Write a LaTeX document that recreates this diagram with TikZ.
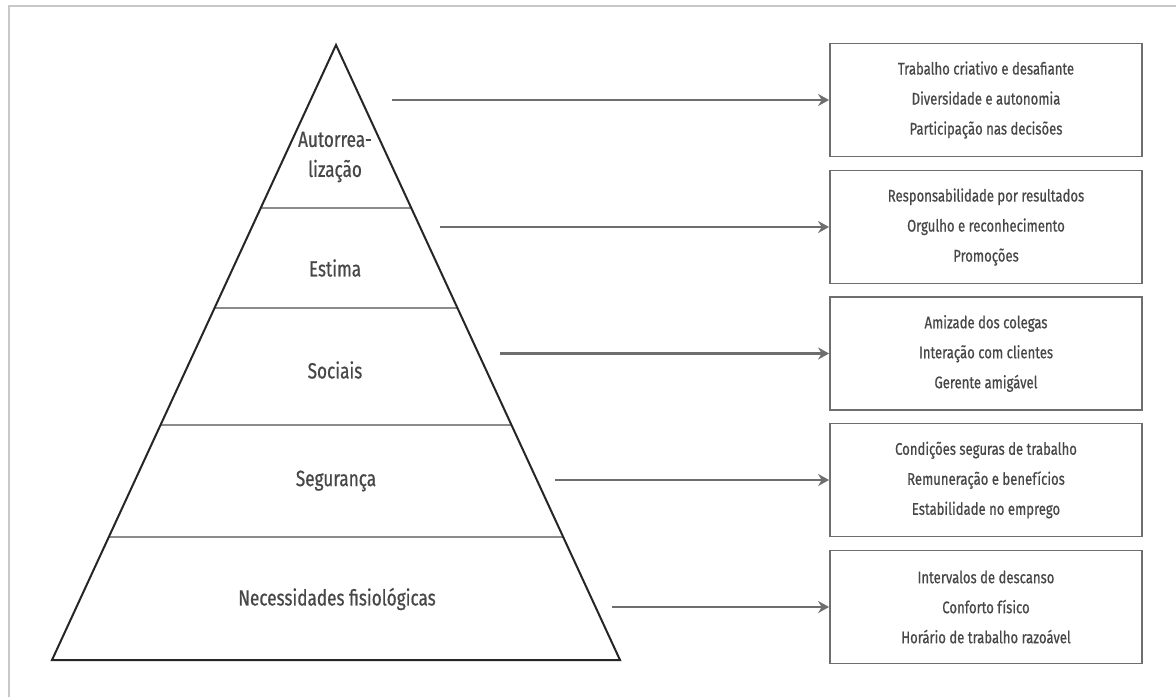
\documentclass[tikz,border=0pt]{standalone}
\usepackage{fontspec}
\setmainfont{Fira Sans}[FakeStretch=0.78,FakeBold=0.6]
\usetikzlibrary{arrows.meta}
\definecolor{txt}{HTML}{474747}
\definecolor{ln}{HTML}{6E6E6E}
\definecolor{frm}{HTML}{C8C8C8}
\begin{document}
\begin{tikzpicture}[x=1pt,y=-1pt,
  lbl/.style={text=txt,font=\fontsize{22}{30}\selectfont,align=center,inner sep=0pt},
  infobox/.style={draw=ln,line width=1.8pt,minimum width=312pt,minimum height=113pt,
     text=txt,font=\fontsize{16.8}{30}\selectfont,align=center,inner sep=0pt},
  conn/.style={draw=ln,line width=2.2pt,-{Stealth[length=11pt,width=12pt]}},
  divider/.style={draw=ln!80,line width=1.8pt}]
\useasboundingbox (0,0) rectangle (1176,697);
\fill[white] (0,0) rectangle (1176,697);
% frame
\draw[frm,line width=1.5pt] (9,697) -- (9,6) -- (1176,6);
% pyramid
\coordinate (apex) at (336,45);
\coordinate (bl) at (52,660);
\coordinate (br) at (620,660);
\draw[divider] (261,208) -- (411,208);
\draw[divider] (214.5,308) -- (457.5,308);
\draw[divider] (160.5,425) -- (511.5,425);
\draw[divider] (109,537) -- (563,537);
\draw[black!85,line width=2pt,line join=miter] (apex) -- (br) -- (bl) -- cycle;
% level labels
\node[lbl] (l1) at (335,157) {Autorrea-\\lização};
\node[lbl] (l2) at (335,268) {Estima};
\node[lbl] (l3) at (335,370) {Sociais};
\node[lbl] (l4) at (336,481) {Segurança};
\node[lbl] (l5) at (337,599) {Necessidades fisiológicas};
% boxes
\node[infobox] (b1) at (986,100) {Trabalho criativo e desafiante\\Diversidade e autonomia\\Participação nas decisões};
\node[infobox] (b2) at (986,227) {Responsabilidade por resultados\\Orgulho e reconhecimento\\Promoções};
\node[infobox] (b3) at (986,353.5) {Amizade dos colegas\\Interação com clientes\\Gerente amigável};
\node[infobox] (b4) at (986,480) {Condições seguras de trabalho\\Remuneração e benefícios\\Estabilidade no emprego};
\node[infobox] (b5) at (986,607) {Intervalos de descanso\\Conforto físico\\Horário de trabalho razoável};
% arrows
\coordinate (s1) at (392,100);
\coordinate (s2) at (440,227);
\coordinate (s3) at (500,353.5);
\coordinate (s4) at (555,480);
\coordinate (s5) at (612,607);
\draw[conn] (s1) -- (b1.west);
\draw[conn] (s2) -- (b2.west);
\draw[conn] (s3) -- (b3.west);
\draw[conn] (s4) -- (b4.west);
\draw[conn] (s5) -- (b5.west);
\end{tikzpicture}
\end{document}
